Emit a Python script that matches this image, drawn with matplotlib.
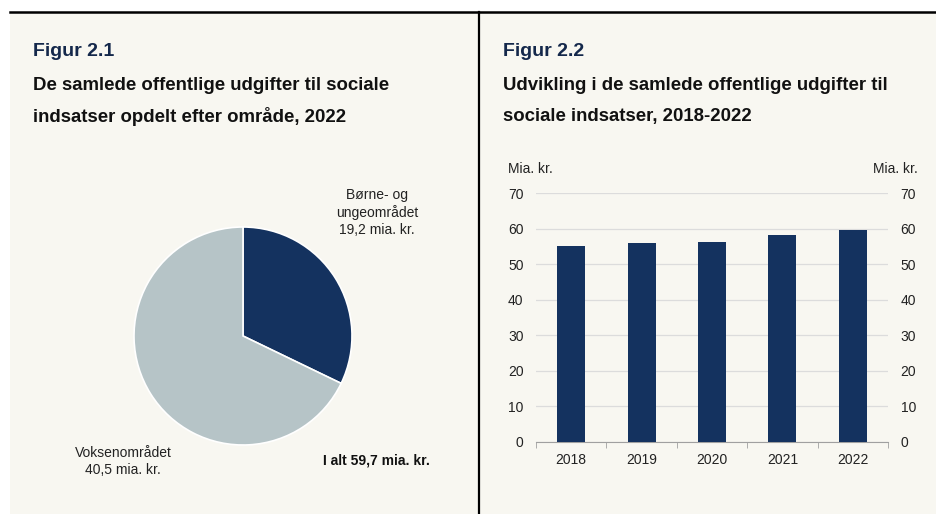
import matplotlib.pyplot as plt
from matplotlib.patches import Rectangle
from matplotlib.lines import Line2D

plt.rcParams['font.family'] = ['Liberation Sans', 'DejaVu Sans']

# data
pie_labels = ["Børne- og\nungeområdet\n19,2 mia. kr.", "Voksenområdet\n40,5 mia. kr."]
pie_values = [19.2, 40.5]
pie_total_label = "I alt 59,7 mia. kr."

years = ["2018", "2019", "2020", "2021", "2022"]
spend = [55.1, 56.1, 56.3, 58.2, 59.7]
y_ticks = [0, 10, 20, 30, 40, 50, 60, 70]

navy = "#14325f"
light = "#b6c4c7"
bg = "#f8f7f1"
title_col = "#14284b"
W, H = 936, 514

fig = plt.figure(figsize=(W / 100, H / 100), dpi=100, facecolor="white")


def fx(px):
    return px / W


def fy(py):
    return 1 - py / H


# panel background and frame lines
fig.patches.append(Rectangle((fx(10), 0), 1 - fx(10), fy(12), transform=fig.transFigure,
                             facecolor=bg, edgecolor="none", zorder=-10))
fig.lines.append(Line2D([fx(10), 1], [fy(12), fy(12)], transform=fig.transFigure, color="black", lw=1.8))
fig.lines.append(Line2D([fx(479), fx(479)], [fy(12), 0], transform=fig.transFigure, color="black", lw=1.6))

# titles
sub_size = 13.4
fig.text(fx(33), fy(52), "Figur 2.1", fontsize=14, fontweight="bold", color=title_col, va="center")
fig.text(fx(33), fy(86), "De samlede offentlige udgifter til sociale", fontsize=sub_size,
         fontweight="bold", color="#111111", va="center")
fig.text(fx(33), fy(116), "indsatser opdelt efter område, 2022", fontsize=sub_size,
         fontweight="bold", color="#111111", va="center")
fig.text(fx(503), fy(52), "Figur 2.2", fontsize=14, fontweight="bold", color=title_col, va="center")
fig.text(fx(503), fy(86), "Udvikling i de samlede offentlige udgifter til", fontsize=sub_size,
         fontweight="bold", color="#111111", va="center")
fig.text(fx(503), fy(116), "sociale indsatser, 2018-2022", fontsize=sub_size,
         fontweight="bold", color="#111111", va="center")

# pie chart
cx, cy, r = 243, 336, 109
ax1 = fig.add_axes([fx(cx - r), fy(cy + r), fx(2 * r), (2 * r) / H])
ax1.pie(pie_values, colors=[navy, light], startangle=90, counterclock=False,
        wedgeprops=dict(edgecolor="white", linewidth=1.2))
ax1.set_xlim(-1, 1)
ax1.set_ylim(-1, 1)
ax1.axis("off")
ax1.text(1.23, 1.13, pie_labels[0], ha="center", va="center", fontsize=10, color="#222222",
         linespacing=1.25)
ax1.text(-1.10, -1.15, pie_labels[1], ha="center", va="center", fontsize=10, color="#222222",
         linespacing=1.25)
ax1.text(0.73, -1.14, pie_total_label, ha="left", va="center", fontsize=10, fontweight="bold",
         color="#111111")

# bar chart
ax2 = fig.add_axes([fx(536), fy(441.7), fx(888 - 536), (441.7 - 193.3) / H])
ax2.set_facecolor("none")
x = list(range(len(years)))
ax2.bar(x, spend, width=0.4, color=navy, zorder=3)
ax2.set_xlim(-0.5, len(years) - 0.5)
ax2.set_ylim(0, 70)
ax2.set_yticks(y_ticks)
ax2.set_xticks(x)
ax2.set_xticklabels(years)
ax2.set_xticks([i - 0.5 for i in range(len(years) + 1)], minor=True)
ax2.tick_params(axis="x", which="major", length=0, pad=8, labelsize=10, labelcolor="#222222")
ax2.tick_params(axis="x", which="minor", length=4, color="#a0a0a0", direction="out")
ax2.tick_params(axis="y", length=0, pad=9, labelsize=10, labelcolor="#222222")
ax2.grid(axis="y", color="#dcdcdc", lw=0.9, zorder=0)
for s in ["top", "left", "right"]:
    ax2.spines[s].set_visible(False)
ax2.spines["bottom"].set_color("#a0a0a0")

ax3 = ax2.twinx()
ax3.set_ylim(0, 70)
ax3.set_yticks(y_ticks)
ax3.tick_params(axis="y", length=0, pad=9, labelsize=10, labelcolor="#222222")
for s in ["top", "left", "right", "bottom"]:
    ax3.spines[s].set_visible(False)

fig.text(fx(508), fy(169), "Mia. kr.", fontsize=10, color="#222222", va="center", ha="left")
fig.text(fx(918), fy(169), "Mia. kr.", fontsize=10, color="#222222", va="center", ha="right")

fig.savefig("out.png", dpi=100, facecolor="white")
